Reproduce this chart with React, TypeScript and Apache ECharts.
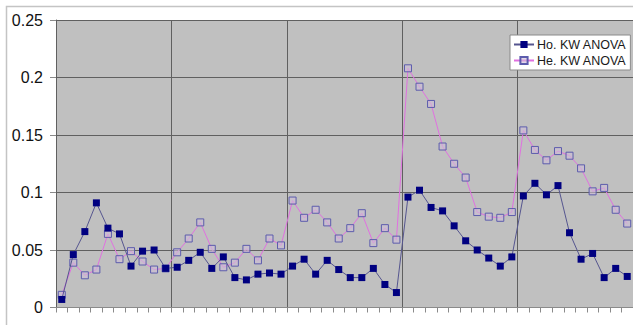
import React, { useEffect, useRef } from "react";
import * as echarts from "echarts";

const categories: string[] = Array.from({ length: 50 }, (_, i) => String(i + 1));

const hoValues = [
  0.007, 0.046, 0.066, 0.091, 0.069, 0.064, 0.036, 0.049, 0.050, 0.034,
  0.035, 0.041, 0.048, 0.034, 0.044, 0.026, 0.024, 0.029, 0.030, 0.029,
  0.036, 0.042, 0.029, 0.041, 0.033, 0.026, 0.026, 0.034, 0.020, 0.013,
  0.096, 0.102, 0.087, 0.084, 0.071, 0.058, 0.050, 0.043, 0.036, 0.044,
  0.097, 0.108, 0.098, 0.106, 0.065, 0.042, 0.047, 0.026, 0.034, 0.027,
];

const heValues = [
  0.011, 0.039, 0.028, 0.033, 0.064, 0.042, 0.049, 0.040, 0.033, 0.034,
  0.048, 0.060, 0.074, 0.051, 0.035, 0.039, 0.051, 0.041, 0.060, 0.054,
  0.093, 0.078, 0.085, 0.074, 0.060, 0.069, 0.082, 0.056, 0.069, 0.059,
  0.208, 0.192, 0.177, 0.140, 0.125, 0.113, 0.083, 0.079, 0.078, 0.083,
  0.154, 0.137, 0.128, 0.136, 0.132, 0.121, 0.101, 0.104, 0.085, 0.073,
];

const seriesNames = ["Ho. KW ANOVA", "He. KW ANOVA"];

const FONT = "'Liberation Sans', Arial, sans-serif";

export default function App() {
  const ref = useRef<HTMLDivElement>(null);

  useEffect(() => {
    if (!ref.current) return;
    const chart = echarts.init(ref.current, null, { renderer: "svg" });
    chart.setOption({
      animation: false,
      backgroundColor: "#ffffff",
      textStyle: { fontFamily: FONT },
      graphic: [
        {
          type: "rect",
          silent: true,
          z: -10,
          shape: { x: 6.5, y: 6.5, width: 700, height: 400 },
          style: { fill: "none", stroke: "#c4c4c4", lineWidth: 1.5 },
        },
      ],
      grid: {
        left: 56,
        top: 20,
        width: 582.5,
        height: 287.5,
        show: true,
        backgroundColor: "#c0c0c0",
        borderWidth: 0,
      },
      legend: {
        orient: "vertical",
        left: 510,
        top: 35,
        data: seriesNames,
        backgroundColor: "#ffffff",
        borderColor: "#8a8a8a",
        borderWidth: 1,
        padding: [3, 4, 3, 3],
        itemGap: 3,
        itemWidth: 20,
        itemHeight: 9,
        textStyle: { fontFamily: FONT, fontSize: 12.5, color: "#1a1a1a", padding: [0, 0, 0, -2] },
      },
      xAxis: {
        type: "category",
        data: categories,
        boundaryGap: true,
        axisLine: { show: true, lineStyle: { color: "#8a8a8a", width: 1 } },
        axisTick: { show: true, interval: 0, length: 5, lineStyle: { color: "#8a8a8a" } },
        axisLabel: { show: false },
        splitLine: {
          show: true,
          interval: (i: number) => i % 10 === 0,
          lineStyle: { color: "#606060", width: 1 },
        },
      },
      yAxis: {
        type: "value",
        min: 0,
        max: 0.25,
        interval: 0.05,
        axisLine: { show: true, lineStyle: { color: "#606060", width: 1 } },
        axisTick: { show: true, length: 6, lineStyle: { color: "#8a8a8a" } },
        axisLabel: {
          margin: 13,
          fontSize: 16,
          color: "#111",
          fontFamily: FONT,
          formatter: (v: number) => String(parseFloat(v.toFixed(2))),
        },
        splitLine: { show: true, lineStyle: { color: "#606060", width: 1 } },
      },
      series: [
        {
          name: seriesNames[0],
          type: "line",
          z: 4,
          data: hoValues,
          symbol: "rect",
          symbolSize: 7,
          showAllSymbol: true,
          lineStyle: { color: "#55558f", width: 1 },
          itemStyle: { color: "#000080", borderColor: "#000080", borderWidth: 0 },
        },
        {
          name: seriesNames[1],
          type: "line",
          z: 3,
          data: heValues,
          symbol: "rect",
          symbolSize: 7,
          showAllSymbol: true,
          lineStyle: { color: "#e070e0", width: 1 },
          itemStyle: { color: "rgba(205,190,215,0.6)", borderColor: "#5c5cad", borderWidth: 1 },
        },
      ],
    });
    return () => chart.dispose();
  }, []);

  return (
    <div
      ref={ref}
      style={{ position: "fixed", left: 0, top: 0, width: 633, height: 325 }}
    />
  );
}
